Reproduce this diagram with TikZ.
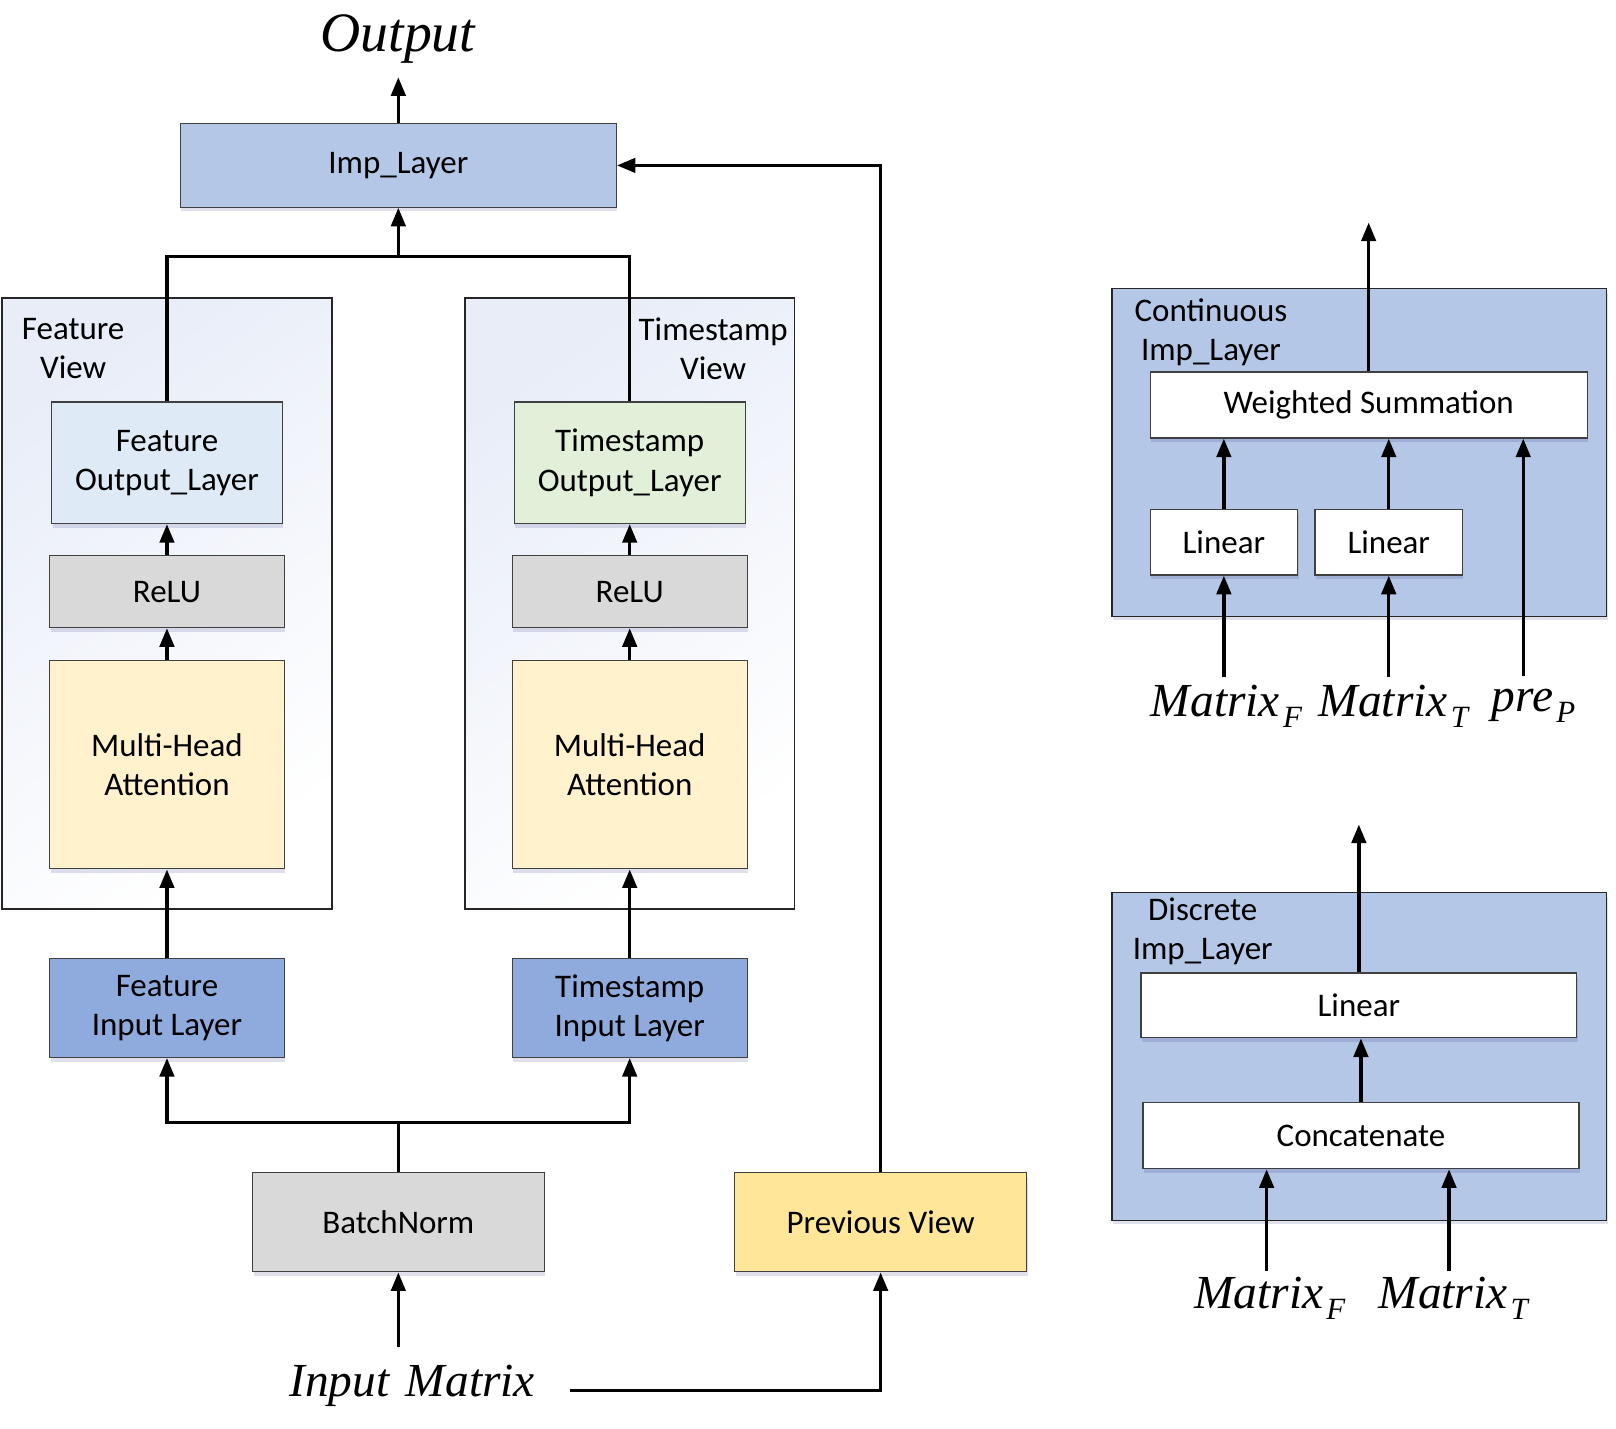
\documentclass[tikz,border=0pt]{standalone}
\usepackage{fontspec}
\setmainfont{Carlito}
\newfontfamily\seriffont{Liberation Serif}
\usetikzlibrary{arrows.meta,shadows}
\definecolor{impblue}{HTML}{B4C7E7}
\definecolor{foutblue}{HTML}{DEEBF7}
\definecolor{toutgreen}{HTML}{E2F0D9}
\definecolor{relugray}{HTML}{D9D9D9}
\definecolor{mhayellow}{HTML}{FFF2CC}
\definecolor{inblue}{HTML}{8FAADC}
\definecolor{pvyellow}{HTML}{FFE699}
\definecolor{ctrtint}{HTML}{E8EDF8}
\definecolor{bordergray}{HTML}{404040}
\newcommand{\mitxt}[1]{{\seriffont\itshape #1}}
\newcommand{\mlab}[2]{\mitxt{\fontsize{46}{46}\selectfont #1\hspace{3pt}\raisebox{-11pt}{\fontsize{30}{30}\selectfont #2}}}
\begin{document}
\begin{tikzpicture}[x=1pt,y=-1pt,
  boxst/.style={draw=bordergray, line width=1.2pt, inner sep=0pt, align=center,
    font=\fontsize{32}{38}\selectfont,
    drop shadow={shadow xshift=1pt, shadow yshift=-4pt, opacity=0.12, fill=blue!40!black}},
  ctrst/.style={draw=black!85, line width=1.4pt, inner sep=0pt},
  lbl/.style={inner sep=0pt, align=center, font=\fontsize{32}{38}\selectfont},
  ln/.style={line width=3.2pt},
  arr/.style={line width=3.2pt, -{Triangle[length=18pt,width=14pt]}}]
\useasboundingbox (0,0) rectangle (1568,1386);

% containers
\node[ctrst, top color=ctrtint, bottom color=white, shading angle=35,
  minimum width=320, minimum height=593] (ctrF) at (162,585.5) {};
\node[ctrst, top color=ctrtint, bottom color=white, shading angle=35,
  minimum width=320, minimum height=593] (ctrT) at (611,585.5) {};
\node[lbl] (lblF) at (71,338) {Feature\\View};
\node[lbl] (lblT) at (692,338) {Timestamp\\View};

% left diagram boxes
\node[boxst, fill=impblue, minimum width=423, minimum height=81] (imp) at (386.5,160.5) {\raisebox{-3pt}{Imp\_Layer}};
\node[boxst, fill=foutblue, minimum width=224, minimum height=118] (fout) at (162,449) {Feature\\Output\_Layer};
\node[boxst, fill=toutgreen, minimum width=224, minimum height=118] (tout) at (611,449) {Timestamp\\Output\_Layer};
\node[boxst, fill=relugray, minimum width=228, minimum height=70] (frelu) at (162,574) {ReLU};
\node[boxst, fill=relugray, minimum width=228, minimum height=70] (trelu) at (611,574) {ReLU};
\node[boxst, fill=mhayellow, minimum width=228, minimum height=202] (fmha) at (162,742) {Multi-Head\\Attention};
\node[boxst, fill=mhayellow, minimum width=228, minimum height=202] (tmha) at (611,742) {Multi-Head\\Attention};
\node[boxst, fill=inblue, minimum width=228, minimum height=96] (fin) at (162,978) {Feature\\Input Layer};
\node[boxst, fill=inblue, minimum width=228, minimum height=96] (tin) at (611,978) {Timestamp\\Input Layer};
\node[boxst, fill=relugray, minimum width=283, minimum height=96] (bn) at (386.5,1186) {BatchNorm};
\node[boxst, fill=pvyellow, minimum width=283, minimum height=96] (pv) at (854.5,1186) {Previous View};

\node[inner sep=0pt] (outtxt) at (386,38) {\mitxt{\fontsize{54}{54}\selectfont Output}};
\node[inner sep=0pt] (inm) at (400,1345) {\mitxt{\fontsize{46}{46}\selectfont Input\hspace{16pt}Matrix}};

\coordinate (outtop) at (386.5,75);
\coordinate (jt) at (386.5,249);
\coordinate (jb) at (386.5,1089);
\coordinate (inmtop) at (386.5,1307);
\coordinate (inmright) at (553,1349);

% left connectors
\draw[arr] (imp.north) -- (outtop);
\draw[ln] (fout.north) |- (jt) -| (tout.north);
\draw[arr] (jt) -- (imp.south);
\draw[arr] (frelu.north) -- (fout.south);
\draw[arr] (trelu.north) -- (tout.south);
\draw[arr] (fmha.north) -- (frelu.south);
\draw[arr] (tmha.north) -- (trelu.south);
\draw[arr] (fin.north) -- (fmha.south);
\draw[arr] (tin.north) -- (tmha.south);
\draw[ln] (bn.north) -- (jb);
\draw[arr] (jb) -| (fin.south);
\draw[arr] (jb) -| (tin.south);
\draw[arr] (inmtop) -- (bn.south);
\draw[arr] (inmright) -| (pv.south);
\draw[arr] (pv.north) |- (imp.east);

% right top: continuous
\node[boxst, fill=impblue, draw=black!85, minimum width=480, minimum height=318] (cont) at (1319,439) {};
\node[lbl] (contlbl) at (1175,322) {Continuous\\Imp\_Layer};
\node[boxst, fill=white, minimum width=424, minimum height=64] (ws) at (1328,393) {Weighted Summation};
\node[boxst, fill=white, minimum width=143, minimum height=64] (lin1) at (1187.5,526) {Linear};
\node[boxst, fill=white, minimum width=143, minimum height=64] (lin2) at (1347.5,526) {Linear};
\node[inner sep=0pt] (cmf) at (1190,685) {\mlab{Matrix}{F}};
\node[inner sep=0pt] (cmt) at (1352,685) {\mlab{Matrix}{T}};
\node[inner sep=0pt] (cpp) at (1488,685) {\mlab{pre}{P}};
\coordinate (couttop) at (1328,216);
\coordinate (cmfa) at (1187.5,657);
\coordinate (cmta) at (1347.5,657);
\coordinate (cppa) at (1478,656);
\draw[arr] (ws.north) -- (couttop);
\draw[arr] (lin1.north) -- (lin1.north |- ws.south);
\draw[arr] (lin2.north) -- (lin2.north |- ws.south);
\draw[arr] (cppa) -- (cppa |- ws.south);
\draw[arr] (cmfa) -- (lin1.south);
\draw[arr] (cmta) -- (lin2.south);

% right bottom: discrete
\node[boxst, fill=impblue, draw=black!85, minimum width=480, minimum height=318] (disc) at (1319,1025) {};
\node[lbl] (disclbl) at (1167,904) {Discrete\\Imp\_Layer};
\node[boxst, fill=white, minimum width=423, minimum height=63] (dlin) at (1318.5,975.5) {Linear};
\node[boxst, fill=white, minimum width=423, minimum height=64] (concat) at (1320.5,1102) {Concatenate};
\node[inner sep=0pt] (dmf) at (1232,1260) {\mlab{Matrix}{F}};
\node[inner sep=0pt] (dmt) at (1410,1260) {\mlab{Matrix}{T}};
\coordinate (douttop) at (1318.5,800);
\coordinate (dmfa) at (1229,1233);
\coordinate (dmta) at (1406,1233);
\draw[arr] (dlin.north) -- (douttop);
\draw[arr] (concat.north) -- (concat.north |- dlin.south);
\draw[arr] (dmfa) -- (dmfa |- concat.south);
\draw[arr] (dmta) -- (dmta |- concat.south);
\end{tikzpicture}
\end{document}
